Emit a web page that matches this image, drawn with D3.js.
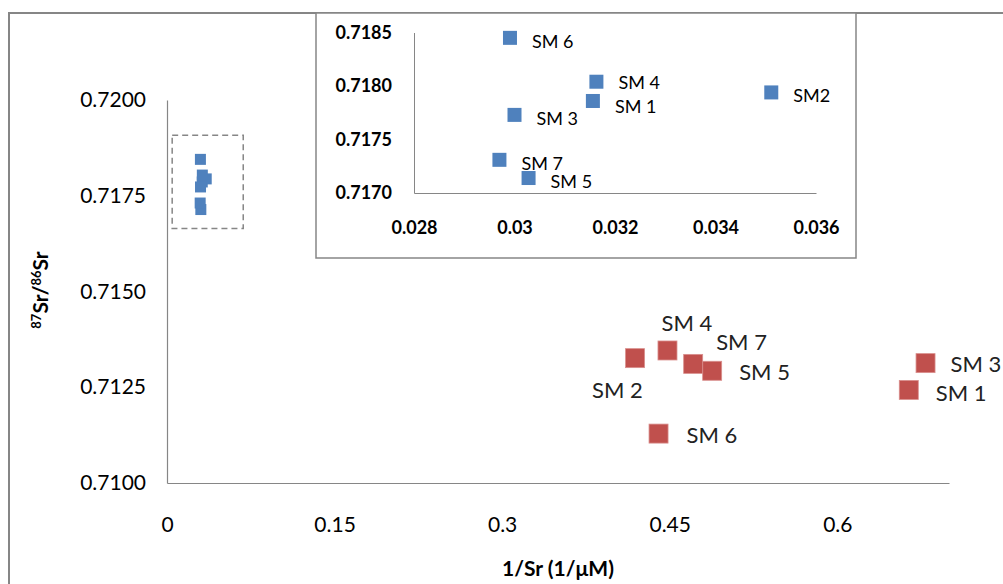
<!DOCTYPE html>
<html>
<head>
<meta charset="utf-8">
<script src="https://cdn.jsdelivr.net/npm/d3@7"></script>
<style>
  html, body { margin: 0; padding: 0; background: #fff; }
  svg { display: block; font-family: Lato, "Open Sans", sans-serif; }
</style>
</head>
<body>
<div id="chart"></div>
<script>
// sample names
const redNames = ['SM 1', 'SM 2', 'SM 3', 'SM 4', 'SM 5', 'SM 6', 'SM 7'];
const blueNames = ['SM 1', 'SM2', 'SM 3', 'SM 4', 'SM 5', 'SM 6', 'SM 7'];

// red series (1/Sr, 87Sr/86Sr)
const redX = [0.664, 0.419, 0.679, 0.448, 0.488, 0.440, 0.471];
const redY = [0.71243, 0.71326, 0.71313, 0.71346, 0.71293, 0.71129, 0.71311];

// blue series (shown small in main plot and zoomed in the inset)
const blueX = [0.03156, 0.03511, 0.03000, 0.03163, 0.03028, 0.02991, 0.02970];
const blueY = [0.71786, 0.71794, 0.71773, 0.71804, 0.71714, 0.71845, 0.71731];

// tick labels
const xTicks = [0, 0.15, 0.3, 0.45, 0.6];
const yTicks = [0.71, 0.7125, 0.715, 0.7175, 0.72];
const insetXTicks = [0.028, 0.03, 0.032, 0.034, 0.036];
const insetYTicks = [0.717, 0.7175, 0.718, 0.7185];

const width = 1003, height = 584;
const grey = '#868686';
const blue = '#4F81BD', red = '#C0504D';

// label placement (pixels from marker centre)
const redLabelOffset = {
  'SM 1': [27, 3], 'SM 2': [-43, 31], 'SM 3': [25, 0], 'SM 4': [-6, -28],
  'SM 5': [27, 1], 'SM 6': [28, 1], 'SM 7': [23, -22]
};
const insetLabelDy = { 'SM 4': 0, 'SM 1': 5 };

const red_pts = redNames.map((n, i) => ({ name: n, x: redX[i], y: redY[i] }));
const blue_pts = blueNames.map((n, i) => ({ name: n, x: blueX[i], y: blueY[i] }));

const svg = d3.select('#chart').append('svg')
  .attr('width', width)
  .attr('height', height);

// outer chart frame (runs off the right and bottom edge)
svg.append('rect')
  .attr('x', 9).attr('y', 13)
  .attr('width', 1100).attr('height', 700)
  .attr('fill', '#fff')
  .attr('stroke', grey).attr('stroke-width', 2);

// main scales
const x = d3.scaleLinear().domain([0, 0.7]).range([167, 949]);
const y = d3.scaleLinear().domain([0.71, 0.72]).range([483, 100]);

const xAxis = svg.append('g')
  .attr('transform', `translate(0,${y(0.71)})`)
  .call(d3.axisBottom(x).tickValues(xTicks).tickSize(0).tickPadding(34).tickFormat(d => String(d)));
const yAxis = svg.append('g')
  .attr('transform', `translate(${x(0)},0)`)
  .call(d3.axisLeft(y).tickValues(yTicks).tickSize(0).tickPadding(21).tickFormat(d3.format('.4f')));

[xAxis, yAxis].forEach(g => {
  g.select('.domain').attr('stroke', grey).attr('stroke-width', 1.2);
  g.selectAll('text').attr('fill', '#000').style('font-size', '21px').style('font-family', 'Lato, sans-serif');
});

// axis titles
svg.append('text')
  .attr('x', 558).attr('y', 576)
  .attr('text-anchor', 'middle')
  .style('font-size', '21px').style('font-weight', 'bold')
  .text('1/Sr (1/\u03BCM)');

const yt = svg.append('text')
  .attr('transform', 'translate(48,290) rotate(-90)')
  .attr('text-anchor', 'middle')
  .style('font-size', '21px').style('font-weight', 'bold');
yt.append('tspan').attr('dy', -7).style('font-size', '13px').text('87');
yt.append('tspan').attr('dy', 7).text('Sr/');
yt.append('tspan').attr('dy', -7).style('font-size', '13px').text('86');
yt.append('tspan').attr('dy', 7).text('Sr');

// dashed box around the cluster that the inset zooms into
const bx0 = x(d3.min(blueX)) - 28, bx1 = x(d3.max(blueX)) + 37;
const by0 = y(d3.max(blueY)) - 24, by1 = y(d3.min(blueY)) + 19;
svg.append('rect')
  .attr('x', bx0).attr('y', by0)
  .attr('width', bx1 - bx0).attr('height', by1 - by0)
  .attr('fill', 'none')
  .attr('stroke', grey).attr('stroke-width', 1.5)
  .attr('stroke-dasharray', '6,4');

// small blue markers in the main plot
const sBlue = 11;
svg.selectAll('.bm')
  .data(blue_pts)
  .enter()
  .append('rect')
  .attr('class', 'bm')
  .attr('x', d => x(d.x) - sBlue / 2)
  .attr('y', d => y(d.y) - sBlue / 2)
  .attr('width', sBlue).attr('height', sBlue)
  .attr('fill', blue);

// red markers
const sRed = 19;
svg.selectAll('.rm')
  .data(red_pts)
  .enter()
  .append('rect')
  .attr('class', 'rm')
  .attr('x', d => x(d.x) - sRed / 2)
  .attr('y', d => y(d.y) - sRed / 2)
  .attr('width', sRed).attr('height', sRed)
  .attr('fill', red)
  .attr('stroke', '#d98f8d').attr('stroke-width', 0.8);

svg.selectAll('.rl')
  .data(red_pts)
  .enter()
  .append('text')
  .attr('class', 'rl')
  .attr('x', d => x(d.x) + redLabelOffset[d.name][0])
  .attr('y', d => y(d.y) + redLabelOffset[d.name][1])
  .attr('dominant-baseline', 'central')
  .style('font-size', '22px')
  .attr('fill', '#222')
  .text(d => d.name);

// ---- inset ----
svg.append('rect')
  .attr('x', 316).attr('y', 13)
  .attr('width', 540).attr('height', 245)
  .attr('fill', '#fff')
  .attr('stroke', grey).attr('stroke-width', 1.5);

const ix = d3.scaleLinear().domain([0.028, 0.036]).range([414, 816]);
const iy = d3.scaleLinear().domain([0.717, 0.7185]).range([193, 32.5]);

const ixAxis = svg.append('g')
  .attr('transform', `translate(0,${iy(0.717)})`)
  .call(d3.axisBottom(ix).tickValues(insetXTicks).tickSize(0).tickPadding(28).tickFormat(d => String(d)));
const iyAxis = svg.append('g')
  .attr('transform', `translate(${ix(0.028)},0)`)
  .call(d3.axisLeft(iy).tickValues(insetYTicks).tickSize(0).tickPadding(22).tickFormat(d3.format('.4f')));

[ixAxis, iyAxis].forEach(g => {
  g.select('.domain').attr('stroke', grey).attr('stroke-width', 1);
  g.selectAll('text').attr('fill', '#000').style('font-size', '18px')
    .style('font-family', 'Lato, sans-serif').style('font-weight', 'bold');
});

const sInset = 14;
svg.selectAll('.im')
  .data(blue_pts)
  .enter()
  .append('rect')
  .attr('class', 'im')
  .attr('x', d => ix(d.x) - sInset / 2)
  .attr('y', d => iy(d.y) - sInset / 2)
  .attr('width', sInset).attr('height', sInset)
  .attr('fill', blue);

svg.selectAll('.il')
  .data(blue_pts)
  .enter()
  .append('text')
  .attr('class', 'il')
  .attr('x', d => ix(d.x) + 22)
  .attr('y', d => iy(d.y) + (d.name in insetLabelDy ? insetLabelDy[d.name] : 3))
  .attr('dominant-baseline', 'central')
  .style('font-size', '18px')
  .attr('fill', '#000')
  .text(d => d.name);
</script>
</body>
</html>
